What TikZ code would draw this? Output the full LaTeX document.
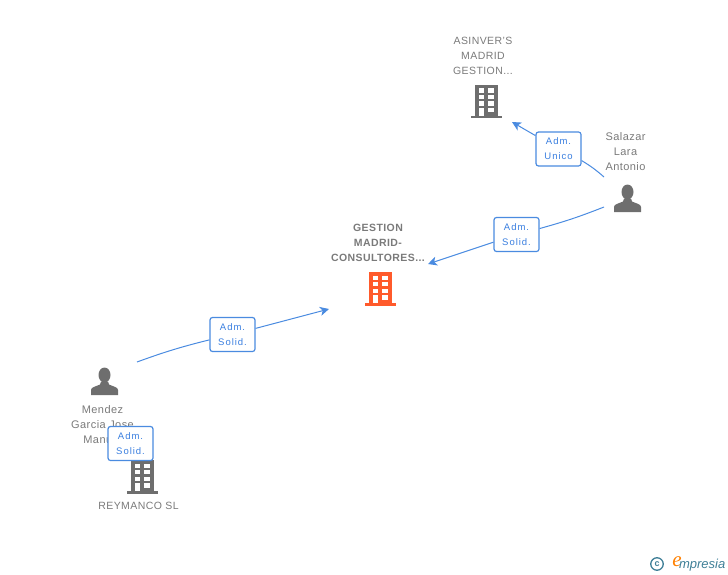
\documentclass[tikz,border=0pt]{standalone}
\usepackage{fontspec}
\setmainfont[LetterSpace=4]{Liberation Sans}
\newfontfamily\logofont{Liberation Sans}
\newfontfamily\logoefont{Liberation Serif}
\usetikzlibrary{arrows.meta}
\definecolor{icongray}{HTML}{6E6E6E}
\definecolor{textgray}{HTML}{7A7A7A}
\definecolor{linkblue}{HTML}{4A8BE0}
\definecolor{roltext}{HTML}{3A7FE0}
\definecolor{mainorange}{HTML}{FF5A2B}
\definecolor{logoteal}{HTML}{3F7F97}
\tikzset{
    holder/.style={align=center,font=\fontsize{10.5}{15}\selectfont,text=textgray,inner sep=0pt},
    person name/.style={holder,font=\fontsize{11}{15}\selectfont},
    rol/.style={draw=linkblue,line width=1.2pt,rounded corners=2.5pt,fill=white,
        minimum width=45pt,minimum height=34pt,inner sep=0pt,align=center,text=roltext,
        text depth=0pt,font=\fontsize{9.5}{15}\selectfont\addfontfeature{LetterSpace=10}},
    link/.style={draw=linkblue,line width=1pt},
    linkto/.style={link,-{Stealth[length=9pt,width=9pt,inset=2.5pt]}},
    pics/building/.style={code={
        \fill[#1] (-11,-16.5) rectangle (11.5,14.5);
        \fill[#1] (-15.5,14.5) rectangle (16,17);
        \foreach \y in {-13,-6.5,0}{
            \fill[white] (-7,\y) rectangle (-1.7,\y+4.4);
            \fill[white] (2.3,\y) rectangle (7.7,\y+4.4);
        }
        \fill[white] (-7,6.5) rectangle (-1.7,14.5);
        \fill[white] (2.3,6.5) rectangle (7.7,11);
    }},
    pics/person/.style={code={
        \fill[icongray] (0.5,-6.5) ellipse (6 and 7.5);
        \fill[icongray] (-13,13.5) -- (-13,8.5) .. controls (-13,5.5) and (-8,5) .. (-4,3) -- (-3,0)
            -- (4,0) -- (5,3) .. controls (9,5) and (14,5.5) .. (14,8.5) -- (14,13.5) -- cycle;
    }}
}
\begin{document}
\begin{tikzpicture}[x=1pt,y=-1pt]
    \useasboundingbox (0,0) rectangle (728,575);
    % free ends of the links
    \coordinate (salazarA) at (604,177);
    \coordinate (salazarB) at (604,207);
    \coordinate (mendezA) at (137,362);
    \coordinate (asinverIn) at (512,122);
    \coordinate (gestionInA) at (428,264);
    \coordinate (gestionInB) at (329,309);

    \node[holder,font=\fontsize{10.5}{15}\selectfont\bfseries] (gestion) at (378,243) {GESTION\\MADRID-\\CONSULTORES...};
    \node[holder] (asinver) at (483,56) {ASINVER'S\\MADRID\\GESTION...};
    \node[person name] (salazar) at (625.5,151.5) {Salazar\\Lara\\Antonio};
    \node[person name] (mendez) at (102.5,424.5) {Mendez\\Garcia Jose\\Manuel};
    \node[holder] (reymanco) at (138.5,506) {REYMANCO SL};

    \pic at (380,288.5) {building=mainorange};
    \pic at (486,101.5) {building=icongray};
    \pic at (142,476.5) {building=icongray};
    \pic at (627,198.5) {person};
    \pic at (104,381.5) {person};

    \node[rol] (unico) at (558.5,149) {Adm.\\Unico};
    \node[rol] (solidA) at (516.5,234.5) {Adm.\\Solid.};
    \node[rol] (solidB) at (232.5,334.5) {Adm.\\Solid.};
    \node[rol] (solidC) at (130.5,443.5) {Adm.\\Solid.};

    \draw[link] (salazarA) to[bend right=5] (unico);
    \draw[linkto] (unico) -- (asinverIn);
    \draw[link] (salazarB) to[bend left=3] (solidA);
    \draw[linkto] (solidA) -- (gestionInA);
    \draw[link] (mendezA) to[bend left=3] (solidB);
    \draw[linkto] (solidB) -- (gestionInB);

    % logo
    \node[circle,draw=logoteal,line width=1.3pt,text=logoteal,inner sep=0pt,minimum size=12.5pt,
        font=\logofont\fontsize{9}{9}\selectfont\bfseries] (copyr) at (657,564) {c};
    \node[text=orange,font=\logoefont\fontsize{21}{21}\selectfont\itshape,inner sep=0pt] (logoE) at (677,562) {e};
    \node[text=logoteal,font=\logofont\fontsize{13}{13}\selectfont\itshape,inner sep=0pt,anchor=east] (logo) at (725.5,565) {mpresia};
\end{tikzpicture}
\end{document}
